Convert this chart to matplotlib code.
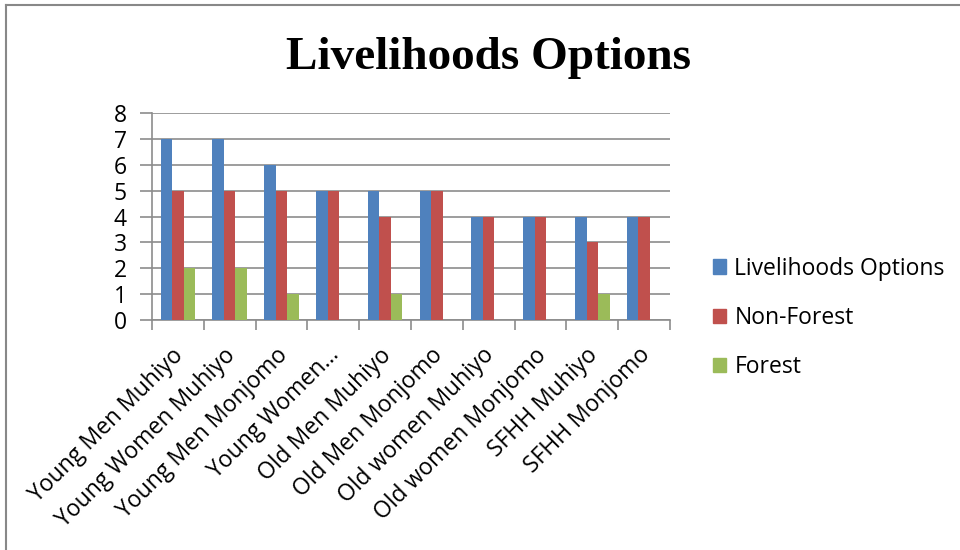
import matplotlib
matplotlib.use('Agg')
import matplotlib.pyplot as plt
import numpy as np
from matplotlib.lines import Line2D

# Group labels and counts per series
groups = ['Young Men Muhiyo', 'Young Women Muhiyo', 'Young Men Monjomo',
          'Young Women…', 'Old Men Muhiyo', 'Old Men Monjomo',
          'Old women Muhiyo', 'Old women Monjomo', 'SFHH Muhiyo', 'SFHH Monjomo']
livelihoods = [7, 7, 6, 5, 5, 5, 4, 4, 4, 4]
non_forest = [5, 5, 5, 5, 4, 5, 4, 4, 3, 4]
forest = [2, 2, 1, 0, 1, 0, 0, 0, 1, 0]

series = ['Livelihoods Options', 'Non-Forest', 'Forest']
colors = ['#4f81bd', '#c0504d', '#9bbb59']

plt.rcParams['font.family'] = ['Open Sans', 'DejaVu Sans']
fs = 16.5

fig = plt.figure(figsize=(9.6, 5.5), dpi=100)
ax = fig.add_axes([152/960, 1-320/550, 518/960, 207/550])

x = np.arange(len(groups))
w = 1/4.5
for i, (vals, c, name) in enumerate(zip([livelihoods, non_forest, forest], colors, series)):
    ax.bar(x + (i-1)*w, vals, width=w, color=c, label=name, zorder=3)

ax.set_xlim(-0.5, len(groups)-0.5)
ax.set_ylim(0, 8)
ax.set_yticks(range(9))
ax.yaxis.grid(True, color='#8c8c8c', linewidth=1.2, zorder=0)
for s in ['top', 'right']:
    ax.spines[s].set_visible(False)
for s in ['left', 'bottom']:
    ax.spines[s].set_color('#8c8c8c')
    ax.spines[s].set_linewidth(1.2)
ax.tick_params(axis='y', length=9, width=1.2, color='#8c8c8c', labelsize=fs, pad=9)
ax.set_xticks(np.arange(len(groups)+1) - 0.5, minor=False)
ax.set_xticklabels([])
ax.tick_params(axis='x', length=7, width=1.2, color='#8c8c8c')
for xi, g in zip(x, groups):
    ax.text(xi - 0.12, -0.9, g, rotation=45, ha='right', va='top',
            rotation_mode='anchor', fontsize=fs, transform=ax.transData)

fig.text(489/960, 1-58/550, 'Livelihoods Options', ha='center', va='center',
         fontsize=34, fontweight='bold', family='Liberation Serif')

handles = [plt.Rectangle((0, 0), 1, 1, color=c) for c in colors]
fig.legend(handles, series, loc='center left', bbox_to_anchor=(692/960, 1-318/550),
           frameon=False, fontsize=fs, handlelength=0.6, handleheight=0.6,
           handletextpad=0.35, labelspacing=1.1)

# Chart border (top and left edges)
fig.add_artist(Line2D([6/960, 6/960], [0, 1-5/550], color='#888888', lw=1.5))
fig.add_artist(Line2D([6/960, 1], [1-5/550, 1-5/550], color='#888888', lw=1.5))

fig.savefig('out.png', dpi=100)
